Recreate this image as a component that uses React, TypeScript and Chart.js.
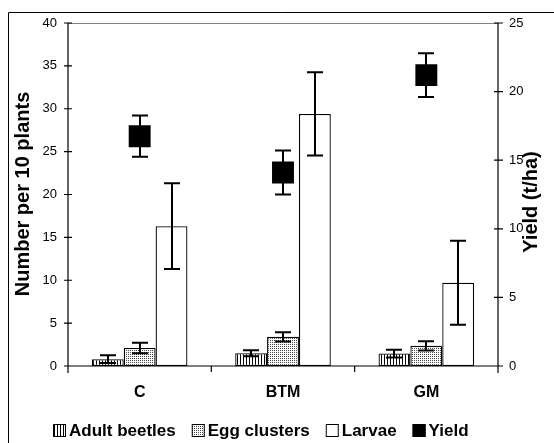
import React, { useEffect, useRef } from "react";
import { Chart, registerables } from "chart.js";
Chart.register(...registerables);

const categories = ["C", "BTM", "GM"];
const adultBeetles = [0.8, 1.5, 1.45];
const adultBeetlesErr = [0.45, 0.35, 0.45];
const eggClusters = [2.1, 3.4, 2.35];
const eggClustersErr = [0.6, 0.55, 0.55];
const larvae = [16.3, 29.4, 9.7];
const larvaeErr = [5.0, 4.85, 4.9];
const yieldValues = [16.75, 14.1, 21.2];
const yieldErr = [1.5, 1.6, 1.6];

const leftTitle = "Number per 10 plants";
const rightTitle = "Yield (t/ha)";
const legendLabels = ["Adult beetles", "Egg clusters", "Larvae", "Yield"];

const FONT = "'Liberation Sans', Arial, sans-serif";

function stripePattern(ctx: CanvasRenderingContext2D) {
  const c = document.createElement("canvas");
  c.width = 3;
  c.height = 3;
  const g = c.getContext("2d")!;
  g.fillStyle = "#fff";
  g.fillRect(0, 0, 3, 3);
  g.fillStyle = "#000";
  g.fillRect(0, 0, 1, 3);
  return ctx.createPattern(c, "repeat")!;
}

function dotPattern(ctx: CanvasRenderingContext2D) {
  const c = document.createElement("canvas");
  c.width = 2;
  c.height = 2;
  const g = c.getContext("2d")!;
  g.fillStyle = "#fff";
  g.fillRect(0, 0, 2, 2);
  g.fillStyle = "#444";
  g.fillRect(0, 0, 1, 1);
  return ctx.createPattern(c, "repeat")!;
}

export default function App() {
  const ref = useRef<HTMLCanvasElement>(null);
  useEffect(() => {
    const canvas = ref.current!;
    const ctx0 = canvas.getContext("2d")!;
    const stripes = stripePattern(ctx0);
    const dots = dotPattern(ctx0);
    const fills: any[] = [stripes, dots, "#fff", "#000"];

    const errorBars = {
      id: "errorBars",
      afterDatasetsDraw(chart: any) {
        const ctx = chart.ctx;
        chart.data.datasets.forEach((ds: any, di: number) => {
          const meta = chart.getDatasetMeta(di);
          const scale = chart.scales[meta.yAxisID];
          meta.data.forEach((el: any, i: number) => {
            const v = ds.data[i];
            const e = ds.errors[i];
            const x = Math.round(el.x);
            const yT = scale.getPixelForValue(v + e);
            const yB = scale.getPixelForValue(v - e);
            ctx.save();
            ctx.strokeStyle = "#000";
            ctx.lineWidth = 2;
            ctx.beginPath();
            ctx.moveTo(x, yT);
            ctx.lineTo(x, yB);
            ctx.moveTo(x - 8, yT);
            ctx.lineTo(x + 8, yT);
            ctx.moveTo(x - 8, yB);
            ctx.lineTo(x + 8, yB);
            ctx.stroke();
            ctx.restore();
          });
        });
      },
    };

    const decor = {
      id: "decor",
      afterDraw(chart: any) {
        const ctx = chart.ctx;
        const a = chart.chartArea;
        const y = chart.scales.y;
        const y2 = chart.scales.y2;
        const x = chart.scales.x;
        ctx.save();
        // outer frame
        ctx.strokeStyle = "#000";
        ctx.lineWidth = 1;
        ctx.beginPath();
        ctx.moveTo(8.5, 460);
        ctx.lineTo(8.5, 12.5);
        ctx.lineTo(560, 12.5);
        ctx.stroke();
        // top gray line
        ctx.strokeStyle = "#808080";
        ctx.beginPath();
        ctx.moveTo(a.left, a.top + 0.5);
        ctx.lineTo(a.right, a.top + 0.5);
        ctx.stroke();
        // axes
        ctx.strokeStyle = "#000";
        ctx.lineWidth = 1.2;
        ctx.beginPath();
        ctx.moveTo(a.left, a.top);
        ctx.lineTo(a.left, a.bottom + 7);
        ctx.moveTo(a.right, a.top);
        ctx.lineTo(a.right, a.bottom + 7);
        ctx.moveTo(a.left, a.bottom);
        ctx.lineTo(a.right, a.bottom);
        y.ticks.forEach((t: any) => {
          const py = y.getPixelForValue(t.value);
          ctx.moveTo(a.left - 4, py);
          ctx.lineTo(a.left + 4, py);
        });
        y2.ticks.forEach((t: any) => {
          const py = y2.getPixelForValue(t.value);
          ctx.moveTo(a.right - 4, py);
          ctx.lineTo(a.right + 5, py);
        });
        for (let i = 1; i < categories.length; i++) {
          const px = (x.getPixelForValue(i - 1) + x.getPixelForValue(i)) / 2;
          ctx.moveTo(px, a.bottom);
          ctx.lineTo(px, a.bottom + 6);
        }
        ctx.stroke();
        // titles
        ctx.fillStyle = "#000";
        ctx.font = `bold 20px ${FONT}`;
        ctx.textAlign = "center";
        ctx.textBaseline = "middle";
        ctx.save();
        ctx.translate(23, 194);
        ctx.rotate(-Math.PI / 2);
        ctx.fillText(leftTitle, 0, 0);
        ctx.restore();
        ctx.save();
        ctx.translate(531, 202);
        ctx.rotate(-Math.PI / 2);
        ctx.fillText(rightTitle, 0, 0);
        ctx.restore();
        // legend
        ctx.font = `bold 17px ${FONT}`;
        ctx.textAlign = "left";
        const ly = 430;
        let lx = 53;
        legendLabels.forEach((lab, i) => {
          ctx.fillStyle = fills[i];
          ctx.fillRect(lx, ly - 6, 13, 13);
          ctx.strokeStyle = "#000";
          ctx.lineWidth = 1;
          ctx.strokeRect(lx + 0.5, ly - 5.5, 12, 12);
          ctx.fillStyle = "#000";
          ctx.fillText(lab, lx + 16, ly + 1);
          lx += 16 + ctx.measureText(lab).width + 16;
        });
        ctx.restore();
      },
    };

    const chart = new Chart(canvas, {
      type: "bar",
      data: {
        labels: categories,
        datasets: [
          {
            label: legendLabels[0],
            data: adultBeetles,
            errors: adultBeetlesErr,
            backgroundColor: stripes,
            borderColor: "#000",
            borderWidth: 1.3,
            borderSkipped: false,
            yAxisID: "y",
            order: 2,
          } as any,
          {
            label: legendLabels[1],
            data: eggClusters,
            errors: eggClustersErr,
            backgroundColor: dots,
            borderColor: "#000",
            borderWidth: 1.3,
            borderSkipped: false,
            yAxisID: "y",
            order: 2,
          } as any,
          {
            label: legendLabels[2],
            data: larvae,
            errors: larvaeErr,
            backgroundColor: "#fff",
            borderColor: "#000",
            borderWidth: 1.3,
            borderSkipped: false,
            yAxisID: "y",
            order: 2,
          } as any,
          {
            type: "line",
            label: legendLabels[3],
            data: yieldValues,
            errors: yieldErr,
            showLine: false,
            pointStyle: "rect",
            pointRadius: 15.5,
            pointBackgroundColor: "#000",
            pointBorderColor: "#000",
            pointBorderWidth: 0,
            yAxisID: "y2",
            order: 1,
          } as any,
        ],
      },
      options: {
        responsive: false,
        animation: false,
        devicePixelRatio: 1,
        events: [],
        layout: { padding: { top: 23, left: 0, right: 0, bottom: 0 } },
        datasets: {
          bar: { categoryPercentage: 0.667, barPercentage: 1.0 },
        },
        plugins: {
          legend: { display: false },
          tooltip: { enabled: false },
          title: { display: false },
        },
        scales: {
          x: {
            grid: { display: false },
            border: { display: false },
            ticks: {
              color: "#000",
              font: { family: FONT, size: 16, weight: "bold" },
              padding: 9,
            },
            afterFit: (s: any) => {
              s.height = 77;
            },
          },
          y: {
            position: "left",
            min: 0,
            max: 40,
            grid: { display: false },
            border: { display: false },
            ticks: {
              stepSize: 5,
              color: "#000",
              font: { family: FONT, size: 13 },
              padding: 3,
            },
            afterFit: (s: any) => {
              s.width = 68;
            },
          },
          y2: {
            position: "right",
            min: 0,
            max: 25,
            grid: { display: false },
            border: { display: false },
            ticks: {
              stepSize: 5,
              color: "#000",
              font: { family: FONT, size: 13 },
              padding: 3,
            },
            afterFit: (s: any) => {
              s.width = 56;
            },
          },
        },
      } as any,
      plugins: [errorBars, decor],
    });
    return () => chart.destroy();
  }, []);

  return (
    <div style={{ position: "absolute", left: 0, top: 0, width: 554, height: 443, overflow: "hidden", background: "#fff" }}>
      <canvas ref={ref} width={554} height={443} style={{ display: "block", width: 554, height: 443 }} />
    </div>
  );
}
